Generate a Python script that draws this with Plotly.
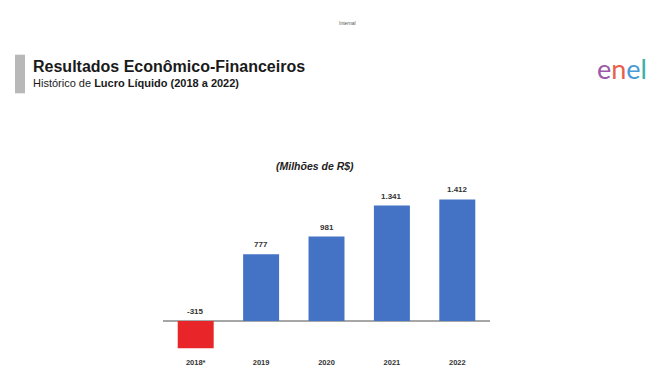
import plotly.graph_objects as go

# Net income history (R$ millions)
years = ["2018*", "2019", "2020", "2021", "2022"]
net_income = [-315, 777, 981, 1341, 1412]
bar_colors = ["#e8262a", "#4472c4", "#4472c4", "#4472c4", "#4472c4"]

W, H = 658, 379
ML, MR, MT, MB = 163, 168, 185, 21
PW, PH = W - ML - MR, H - MT - MB


def fx(px):
    return (px - ML) / PW


def fy(py):
    return (H - MB - py) / PH


def fmt(v):
    return f"{v:,}".replace(",", ".")


FONT = "Liberation Sans, Arial, sans-serif"

fig = go.Figure(
    go.Bar(
        x=years,
        y=net_income,
        marker=dict(color=bar_colors, line=dict(width=0)),
        showlegend=False,
    )
)

annotations = []
# value labels above each bar (negative value sits above the zero line);
# x is given as the category index
for i, v in enumerate(net_income):
    annotations.append(dict(
        x=i, y=max(v, 0), xref="x", yref="y",
        text=f"<b>{fmt(v)}</b>", showarrow=False,
        yanchor="bottom", yshift=3,
        font=dict(family=FONT, size=8, color="#333333"),
    ))

# unit caption
annotations.append(dict(
    x=fx(315), y=fy(165), xref="paper", yref="paper",
    text="<b><i>(Milhões de R$)</i></b>", showarrow=False,
    xanchor="center", yanchor="middle",
    font=dict(family=FONT, size=10.5, color="#222222"),
))

# page heading
annotations.append(dict(
    x=fx(31), y=fy(62), xref="paper", yref="paper",
    text="<b>Resultados Econômico-Financeiros</b>", showarrow=False,
    xanchor="left", yanchor="middle",
    font=dict(family=FONT, size=16, color="#1a1a1a"),
))
annotations.append(dict(
    x=fx(31), y=fy(79), xref="paper", yref="paper",
    text="Histórico de <b>Lucro Líquido (2018 a 2022)</b>", showarrow=False,
    xanchor="left", yanchor="middle",
    font=dict(family=FONT, size=11, color="#1a1a1a"),
))

# classification tag
annotations.append(dict(
    x=fx(347), y=fy(17), xref="paper", yref="paper",
    text="Internal", showarrow=False,
    xanchor="center", yanchor="middle",
    font=dict(family=FONT, size=5, color="#555555"),
))

# brand wordmark
annotations.append(dict(
    x=fx(622), y=fy(64), xref="paper", yref="paper",
    text=("<span style='color:#9a5aa8'>e</span>"
          "<span style='color:#e8604c'>n</span>"
          "<span style='color:#4a9ad6'>e</span>"
          "<span style='color:#3ab0a8'>l</span>"),
    showarrow=False, xanchor="center", yanchor="middle",
    font=dict(family="Lato, Open Sans, sans-serif", size=27, color="#888888"),
))

shapes = [
    # grey accent bar beside the heading
    dict(type="rect", xref="paper", yref="paper",
         x0=fx(15), x1=fx(25), y0=fy(90), y1=fy(50),
         fillcolor="#b8b8b8", line=dict(width=0), layer="above"),
]

fig.update_layout(
    width=W, height=H,
    margin=dict(l=ML, r=MR, t=MT, b=MB),
    paper_bgcolor="white", plot_bgcolor="white",
    bargap=0.45,
    annotations=annotations,
    shapes=shapes,
    font=dict(family=FONT),
    xaxis=dict(
        type="category",
        range=[-0.5, len(years) - 0.5],
        showgrid=False, showline=False, ticks="",
        tickfont=dict(family=FONT, size=7.5, color="#333333"),
        ticklabelstandoff=4,
        tickprefix="<b>", ticksuffix="</b>",
    ),
    yaxis=dict(
        range=[-359, 1580], visible=True, showgrid=False, showticklabels=False,
        showline=False, ticks="",
        zeroline=True, zerolinecolor="#a6a6a6", zerolinewidth=1.5,
    ),
)

fig.write_html("out.html")
